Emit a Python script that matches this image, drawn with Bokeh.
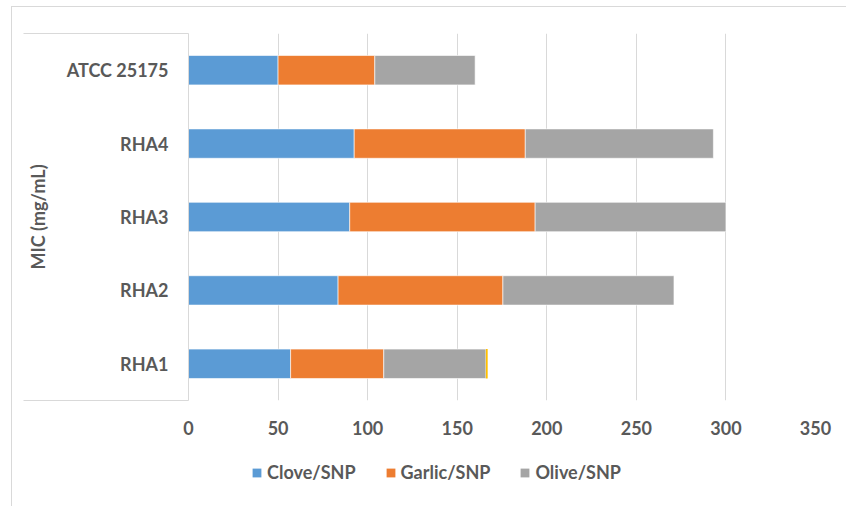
from bokeh.plotting import figure
from bokeh.layouts import column
from bokeh.models import Range1d, FactorRange, FixedTicker, ColumnDataSource, LinearAxis
from bokeh.embed import file_html
from bokeh.resources import INLINE

# ---- data ----
categories = ["RHA1", "RHA2", "RHA3", "RHA4", "ATCC 25175"]
clove = [57, 83.5, 90, 92.5, 50]
garlic = [52, 92, 103.5, 95.5, 54]
olive = [57, 95.5, 106.5, 105, 56]
extra = [1, 0, 0, 0, 0]
series_names = ["Clove/SNP", "Garlic/SNP", "Olive/SNP"]
x_ticks = [0, 50, 100, 150, 200, 250, 300, 350]
y_title = "MIC (mg/mL)"

colors = ["#5B9BD5", "#ED7D31", "#A5A5A5"]
extra_color = "#FFC000"
text_color = "#595959"
grid_color = "#D9D9D9"
FONT = "Lato"
FS = "18px"

src = ColumnDataSource(data=dict(
    cat=categories,
    **{series_names[0]: clove, series_names[1]: garlic, series_names[2]: olive},
    total=[a + b + c for a, b, c in zip(clove, garlic, olive)],
    extra_end=[a + b + c + d for a, b, c, d in zip(clove, garlic, olive, extra)],
))

p = figure(
    width=834, height=439,
    y_range=FactorRange(*categories, range_padding=0),
    x_range=Range1d(0, 350),
    output_backend="svg", toolbar_location=None,
    min_border_left=176, min_border_right=31, min_border_top=26, min_border_bottom=46,
    background_fill_color="white", border_fill_color="white",
)
p.title.visible = False
p.outline_line_color = None

p.hbar_stack(series_names, y="cat", height=0.4, color=colors, source=src,
             line_color="white", line_width=1, line_alpha=0.6)
p.hbar(y="cat", left="total", right="extra_end", height=0.4, source=src,
       fill_color=extra_color, line_color=None)

# grids
p.ygrid.grid_line_color = None
p.xgrid.grid_line_color = grid_color
p.xgrid.grid_line_width = 1
p.xaxis.ticker = FixedTicker(ticks=x_ticks)

# x axis
xa = p.xaxis[0]
xa.axis_line_color = None
xa.major_tick_line_color = None
xa.minor_tick_line_color = None
xa.major_tick_out = 0
xa.major_tick_in = 0
xa.major_label_standoff = 20
xa.major_label_text_font = FONT
xa.major_label_text_font_style = "bold"
xa.major_label_text_font_size = FS
xa.major_label_text_color = text_color

# y axis
ya = p.yaxis[0]
ya.axis_line_color = grid_color
ya.major_tick_line_color = None
ya.minor_tick_line_color = None
ya.major_tick_out = 0
ya.major_tick_in = 0
ya.major_label_standoff = 20
ya.major_label_text_font = FONT
ya.major_label_text_font_style = "bold"
ya.major_label_text_font_size = FS
ya.major_label_text_color = text_color
ya.axis_label = y_title
ya.axis_label_text_font = FONT
ya.axis_label_text_font_style = "bold"
ya.axis_label_text_font_size = FS
ya.axis_label_text_color = text_color
ya.axis_label_standoff = 15

# outer category box lines (top and bottom edges of the category label area)
box_axis = LinearAxis(ticker=FixedTicker(ticks=[], minor_ticks=[0, len(categories)]),
                      axis_line_color=None, major_tick_line_color=None,
                      minor_tick_line_color=grid_color, minor_tick_line_width=1,
                      minor_tick_in=165, minor_tick_out=0,
                      major_label_text_alpha=0)
p.add_layout(box_axis, "left")

# ---- legend strip (same series; zero-height bars so only the legend shows) ----
pl = figure(width=834, height=60, x_range=Range1d(-20, -10),
            y_range=FactorRange(*categories, range_padding=0),
            output_backend="svg", toolbar_location=None,
            x_axis_location=None, y_axis_location=None,
            min_border=0, min_border_left=0, min_border_right=0,
            min_border_top=0, min_border_bottom=0,
            background_fill_color="white", border_fill_color="white")
pl.title.visible = False
pl.outline_line_color = None
pl.grid.visible = False
pl.hbar_stack(series_names, y="cat", height=0, color=colors, source=src,
              line_color=None, legend_label=series_names)
lg = pl.legend[0]
lg.orientation = "horizontal"
lg.location = (63, 23)
lg.padding = 0
lg.margin = 0
lg.spacing = 29
lg.glyph_width = 11
lg.glyph_height = 11
lg.label_standoff = 5
lg.label_height = 20
lg.label_text_font = FONT
lg.label_text_font_style = "bold"
lg.label_text_font_size = FS
lg.label_text_color = text_color
lg.border_line_color = None
lg.background_fill_alpha = 0

layout = column(p, pl, spacing=0,
                styles={"margin-left": "11px", "margin-top": "6px",
                        "border-left": "1px solid #D9D9D9", "border-top": "1px solid #D9D9D9"})

open("out.html", "w").write(file_html(layout, INLINE))
